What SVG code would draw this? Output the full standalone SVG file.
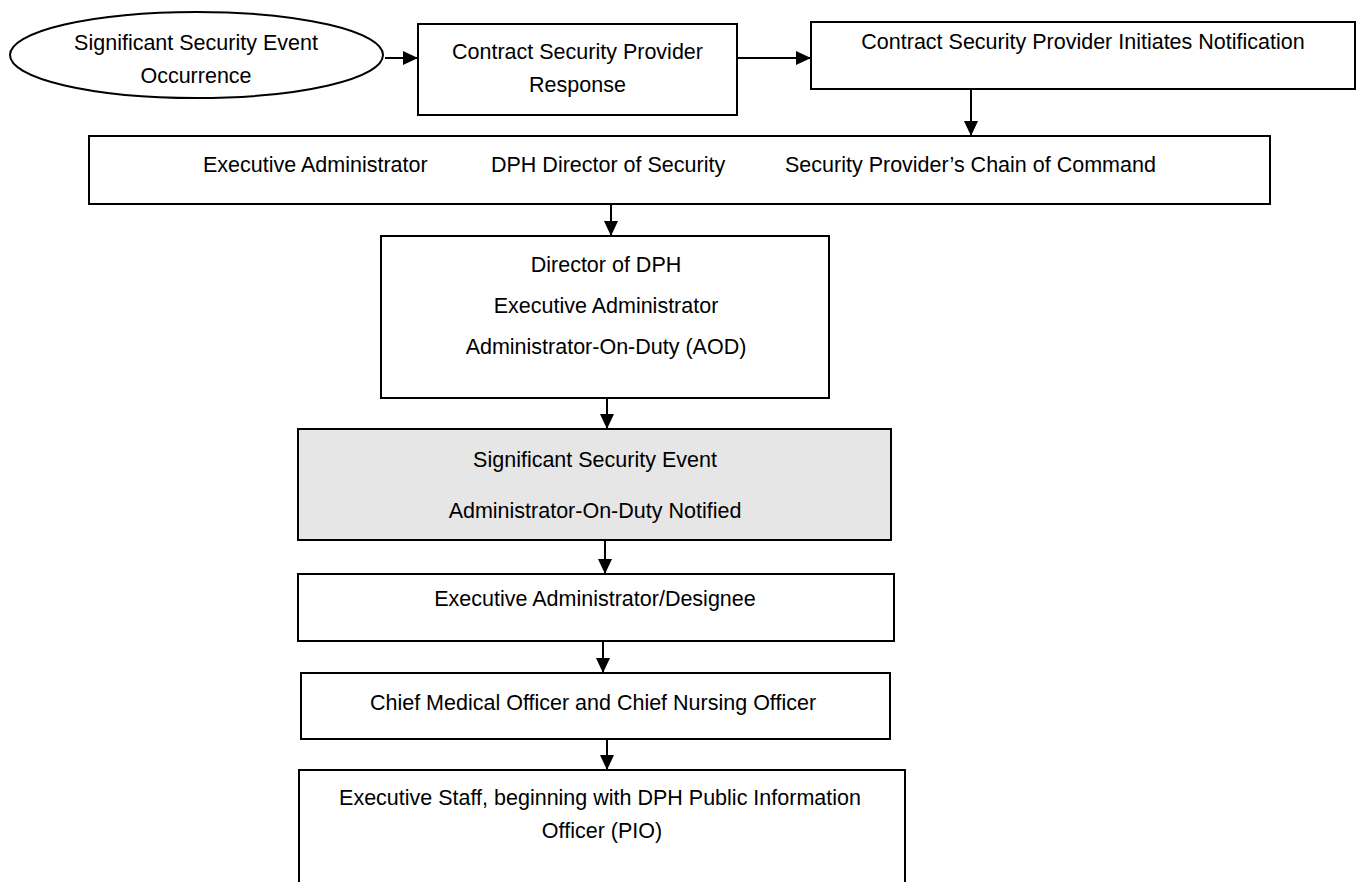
<svg xmlns="http://www.w3.org/2000/svg" width="1361" height="882" viewBox="0 0 1361 882">
<style>
.box{fill:#ffffff;stroke:#000000;stroke-width:2}
.gray{fill:#e6e6e6;stroke:#000000;stroke-width:2}
.t{font-family:"Liberation Sans",Arial,sans-serif;font-size:21.5px;fill:#000000}
.c{text-anchor:middle}
.conn{stroke:#000000;stroke-width:2;fill:none}
</style>
<defs>
<marker id="arr" viewBox="0 0 15 14" refX="15" refY="7" markerWidth="15" markerHeight="14" markerUnits="userSpaceOnUse" orient="auto">
<path d="M0,0 L15,7 L0,14 Z" fill="#000000"/>
</marker>
</defs>
<rect width="1361" height="882" fill="#ffffff"/>
<g id="connectors">
<line class="conn" x1="385" y1="58" x2="418" y2="58" marker-end="url(#arr)"/>
<line class="conn" x1="737" y1="58" x2="811" y2="58" marker-end="url(#arr)"/>
<line class="conn" x1="971" y1="89" x2="971" y2="136" marker-end="url(#arr)"/>
<line class="conn" x1="611" y1="204" x2="611" y2="236" marker-end="url(#arr)"/>
<line class="conn" x1="607" y1="398" x2="607" y2="429" marker-end="url(#arr)"/>
<line class="conn" x1="605" y1="540" x2="605" y2="574" marker-end="url(#arr)"/>
<line class="conn" x1="603" y1="641" x2="603" y2="673" marker-end="url(#arr)"/>
<line class="conn" x1="607" y1="739" x2="607" y2="770" marker-end="url(#arr)"/>
</g>
<g id="event">
<ellipse class="box" cx="196.5" cy="55" rx="186.5" ry="43"/>
<text class="t c" x="196" y="50">Significant Security Event</text>
<text class="t c" x="196" y="83">Occurrence</text>
</g>
<g id="response">
<rect class="box" x="418" y="24" width="319" height="91"/>
<text class="t c" x="577.5" y="59">Contract Security Provider</text>
<text class="t c" x="577.5" y="92">Response</text>
</g>
<g id="initiates">
<rect class="box" x="811" y="22" width="544" height="67"/>
<text class="t c" x="1083" y="49">Contract Security Provider Initiates Notification</text>
</g>
<g id="notify-group">
<rect class="box" x="89" y="136" width="1181" height="68"/>
<text class="t" x="203" y="172">Executive Administrator</text>
<text class="t" x="491" y="172">DPH Director of Security</text>
<text class="t" x="785" y="172">Security Provider’s Chain of Command</text>
</g>
<g id="director">
<rect class="box" x="381" y="236" width="448" height="162"/>
<text class="t c" x="606" y="272">Director of DPH</text>
<text class="t c" x="606" y="313">Executive Administrator</text>
<text class="t c" x="606" y="354">Administrator-On-Duty (AOD)</text>
</g>
<g id="aod-notified">
<rect class="gray" x="298" y="429" width="593" height="111"/>
<text class="t c" x="595" y="467">Significant Security Event</text>
<text class="t c" x="595" y="518">Administrator-On-Duty Notified</text>
</g>
<g id="designee">
<rect class="box" x="298" y="574" width="596" height="67"/>
<text class="t c" x="595" y="606">Executive Administrator/Designee</text>
</g>
<g id="cmo-cno">
<rect class="box" x="301" y="673" width="589" height="66"/>
<text class="t c" x="593" y="710">Chief Medical Officer and Chief Nursing Officer</text>
</g>
<g id="exec-staff">
<rect class="box" x="299" y="770" width="606" height="130"/>
<text class="t c" x="600" y="805">Executive Staff, beginning with DPH Public Information</text>
<text class="t c" x="602" y="838">Officer (PIO)</text>
</g>
</svg>
